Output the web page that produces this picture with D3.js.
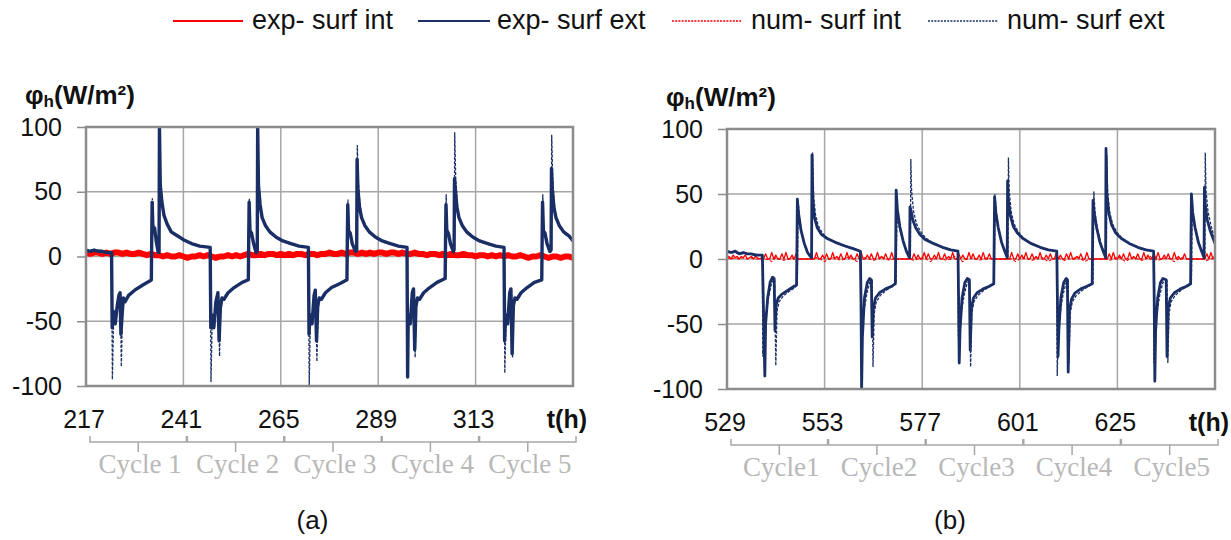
<!DOCTYPE html>
<html><head><meta charset="utf-8">
<script src="https://cdn.jsdelivr.net/npm/d3@7"></script>
<style>body{margin:0;background:#fff}svg{display:block}</style>
</head><body><svg id="c" width="1231" height="540"></svg>
<script>
// ---------------- DATA ----------------
const legendLabels = ["exp- surf int", "exp- surf ext", "num- surf int", "num- surf ext"];
const yTicks = [100, 50, 0, -50, -100];
const ticksA = [217, 241, 265, 289, 313];
const ticksB = [529, 553, 577, 601, 625];
const cyclesA = ["Cycle 1", "Cycle 2", "Cycle 3", "Cycle 4", "Cycle 5"];
const cyclesB = ["Cycle1", "Cycle2", "Cycle3", "Cycle4", "Cycle5"];

// (a) exp surf int: hourly values from t=217
const expIntA = [3,2,3,3,2,3,2,3,3,2,3,2,2,3,
 2,1,2,1,1,0,1,0,0,1,0,-1,0,0,1,
 0,1,0,-1,0,0,1,0,1,0,1,2,1,1,2,
 1,2,2,1,2,1,2,1,2,2,1,2,2,1,2,
 2,3,2,2,3,2,3,3,2,3,2,3,2,3,3,
 2,3,3,2,3,2,2,3,2,2,1,2,2,1,2,
 1,2,1,1,2,1,1,0,1,1,0,1,0,1,0,
 1,0,0,1,0,-1,0,0,1,0,-1,0,0,-1,0,0,-1];
// (a) num surf int: every 4 h from t=217
const numIntA = [3,2,2,1,0,0,0,0,1,1,1,2,2,2,2,2,3,3,2,2,2,1,1,1,1,0,0,0,0,0,0];

// (a) exp surf ext [t, value]
const expExtA = [[217,5],[218,4],[219,5],[220,4],[221,4],[222,3],[223.3,3],
[223.45,-55],[223.7,-42],[224.2,-52],[224.7,-38],[225.1,-30],[225.4,-28],[225.6,-60],[225.9,-45],[226.2,-32],[226.6,-35],[227.5,-30],[229,-26],[231,-22],[232.7,-19],[233.1,-18],[233.2,15],[233.3,42],[233.5,20],[233.9,22],[234.3,12],[234.8,3],[235.0,3],[235.1,100],[235.3,55],[235.7,42],[236.2,32],[237,25],[238,19],[239.5,16],[241,13],[243,10],[245,8],[247.6,7],
[247.75,-55],[248,-45],[248.5,-55],[249,-35],[249.5,-28],[249.8,-65],[250.1,-40],[250.5,-32],[251,-33],[252,-28],[253.5,-24],[255.5,-20],[257,-18],[257.1,16],[257.2,42],[257.4,20],[257.8,18],[258.3,10],[258.9,3],[259.2,4],[259.3,100],[259.5,55],[259.9,40],[260.4,30],[261.2,24],[262.3,19],[263.8,15],[265.5,12],[267.5,10],[269.5,8],[271.8,7],
[271.95,-60],[272.2,-45],[272.7,-52],[273.2,-30],[273.5,-26],[273.8,-65],[274.1,-38],[274.5,-32],[275,-33],[276,-28],[277.5,-24],[279.5,-21],[281.3,-18],[281.4,15],[281.5,40],[281.7,20],[282.1,18],[282.6,10],[283.4,4],[283.7,5],[283.8,75],[284.0,52],[284.4,38],[284.9,30],[285.7,24],[286.8,19],[288.3,15],[290,12],[292,10],[294,8],[296.1,7],
[296.25,-93],[296.4,-45],[296.9,-52],[297.4,-28],[297.7,-25],[298.0,-72],[298.3,-38],[298.7,-32],[299.2,-33],[300.2,-28],[301.7,-24],[303.5,-20],[305.5,-17],[305.6,15],[305.7,40],[305.9,20],[306.3,18],[306.8,10],[307.5,4],[307.7,5],[307.8,60],[308.0,52],[308.4,38],[308.9,30],[309.7,24],[310.8,19],[312.3,15],[314,12],[316,10],[318,8],[320,7],
[320.15,-65],[320.4,-45],[320.9,-52],[321.4,-28],[321.7,-25],[322.0,-75],[322.3,-38],[322.7,-32],[323.2,-33],[324.2,-28],[325.7,-24],[327.5,-20],[329.3,-18],[329.4,15],[329.5,42],[329.7,20],[330.1,18],[330.6,10],[331.3,4],[331.6,5],[331.7,68],[331.9,52],[332.3,38],[332.8,30],[333.6,24],[334.7,19],[336,16],[337,12]];

// (a) num surf ext [t, value]
const numExtA = [[217,4],[219,5],[221,4],[223.3,3],
[223.5,-95],[223.8,-50],[224.3,-48],[224.8,-40],[225.2,-32],[225.5,-30],[225.7,-85],[226.0,-42],[226.4,-34],[227,-32],[228.5,-27],[230.5,-23],[232.7,-19],[233.1,-18],[233.2,20],[233.35,45],[233.6,25],[234.0,20],[234.5,8],[234.9,2],[235.05,3],[235.15,78],[235.35,60],[235.8,40],[236.3,30],[237.1,24],[238.2,18],[239.7,15],[241.2,12],[243.2,10],[245.2,8],[247.6,7],
[247.8,-97],[248.1,-48],[248.6,-50],[249.1,-35],[249.6,-30],[249.9,-77],[250.2,-40],[250.6,-33],[251.2,-32],[252.3,-27],[253.8,-23],[255.7,-20],[257,-18],[257.1,20],[257.25,45],[257.5,22],[257.9,16],[258.5,7],[259,2],[259.25,3],[259.35,70],[259.6,55],[260,40],[260.5,30],[261.3,23],[262.4,18],[264,14],[266,11],[268,9],[270,8],[271.8,7],
[272.0,-100],[272.3,-48],[272.8,-50],[273.3,-32],[273.6,-28],[273.9,-81],[274.2,-40],[274.6,-33],[275.2,-32],[276.3,-27],[277.8,-23],[279.8,-20],[281.3,-18],[281.4,20],[281.55,44],[281.8,22],[282.2,16],[282.8,7],[283.5,3],[283.75,4],[283.85,86],[284.1,58],[284.5,40],[285,30],[285.8,23],[286.9,18],[288.5,14],[290.3,11],[292.3,9],[294.3,8],[296.1,7],
[296.3,-60],[296.5,-48],[297,-50],[297.5,-30],[297.8,-26],[298.1,-78],[298.4,-40],[298.8,-33],[299.4,-32],[300.5,-27],[302,-23],[303.8,-19],[305.5,-17],[305.6,20],[305.75,48],[306,22],[306.4,16],[307,7],[307.6,3],[307.75,4],[307.85,96],[308.1,60],[308.5,40],[309,30],[309.8,23],[310.9,18],[312.5,14],[314.3,11],[316.3,9],[318.3,8],[320,7],
[320.2,-90],[320.5,-48],[321,-50],[321.5,-30],[321.8,-26],[322.1,-78],[322.4,-40],[322.8,-33],[323.4,-32],[324.5,-27],[326,-23],[327.8,-19],[329.3,-18],[329.4,20],[329.55,48],[329.8,22],[330.2,16],[330.8,7],[331.4,3],[331.65,4],[331.75,94],[332,60],[332.4,40],[332.9,30],[333.7,23],[334.8,18],[336,15],[337,12]];

// (b) exp surf int: half-hourly values from t=529
const expIntB = [1,2,0,3,1,2,0,2,1,3,0,1,2,0,2,1,0,1,
 0,4,0,0,5,0,3,0,0,4,0,5,0,0,3,0,4,
 0,0,0,0,0,0,0,0,
 0,5,0,0,3,0,4,0,0,5,0,2,0,4,0,0,5,0,3,0,0,4,0,5,0,0,3,0,4,0,0,5,0,2,0,4,0,0,5,
 0,0,0,0,0,0,0,0,0,
 0,4,0,3,0,0,5,0,4,0,0,3,0,5,0,0,4,0,2,0,5,0,0,4,0,3,0,0,5,0,4,0,0,3,0,5,0,0,4,
 0,0,0,0,0,0,0,0,0,
 0,5,0,0,4,0,3,0,5,0,0,4,0,2,0,5,0,0,3,0,4,0,0,5,0,3,0,0,4,0,5,0,0,2,0,4,0,0,5,0,
 0,0,0,0,0,0,0,0,
 0,4,0,5,0,0,3,0,4,0,0,5,0,2,0,4,0,0,5,0,3,0,0,4,0,5,0,0,3,0,4,0,0,5,0,2,0,0,4,0,
 0,0,0,0,0,0,0,0,
 0,4,0,5,0,3];
// (b) num surf int: hourly values from t=529
const numIntB = [1,0,1,0,1,0,1,0,0,
 -1,0,-2,1,0,-1,0,1,-2,
 0,0,0,0,
 1,0,-2,0,1,0,-1,0,2,0,-2,0,1,0,-1,0,2,0,-1,
 0,0,0,0,0,
 -1,0,1,0,-2,0,1,0,-1,0,2,0,-2,0,1,0,-1,0,1,
 0,0,0,0,0,
 0,-2,0,1,0,-1,0,2,0,-2,0,1,0,-1,0,0,2,0,-2,0,
 0,0,0,0,
 -1,0,2,0,-2,0,1,0,-1,0,2,0,-1,0,1,0,-2,0,1,0,
 0,0,0,0,
 -1,0,1];

// (b) exp surf ext [t, value]
const expExtB = [[529,6],[530,5],[531,6],[532,4],[533,5],[534,4],[535,4],[536,3],[537.7,3],
[537.85,-20],[538.1,-60],[538.3,-90],[538.5,-50],[539,-30],[539.6,-18],[540.2,-14],[540.6,-15],[540.8,-55],[541.1,-35],[541.6,-30],[542.5,-27],[544,-24],[545.5,-21],[546.1,-20],[546.2,10],[546.3,46],[546.6,35],[547.2,22],[548,12],[548.8,5],[549.5,2],[549.8,1],[549.9,80],[550.1,45],[550.5,32],[551.2,24],[552.2,19],[553.5,16],[555.5,13],[558,10],[560,8],[561.8,6],
[561.95,-30],[562.1,-100],[562.3,-60],[562.8,-30],[563.5,-18],[564.1,-15],[564.5,-16],[564.7,-60],[565.0,-38],[565.5,-30],[566.5,-26],[568,-23],[569.5,-21],[570.4,-19],[570.5,15],[570.6,53],[570.9,38],[571.5,25],[572.3,14],[573.1,6],[573.7,2],[573.9,1],[574.0,40],[574.2,38],[574.7,30],[575.4,24],[576.4,19],[577.7,15],[579.7,12],[582,9],[584,7],[585.8,6],
[585.95,-30],[586.1,-80],[586.3,-55],[586.8,-30],[587.5,-18],[588.1,-15],[588.6,-16],[588.8,-70],[589.1,-38],[589.6,-30],[590.5,-26],[592,-23],[593.5,-21],[594.6,-19],[594.7,15],[594.8,48],[595.1,36],[595.7,24],[596.5,13],[597.3,6],[597.8,2],[597.9,1],[598.0,60],[598.2,45],[598.7,33],[599.4,25],[600.4,20],[601.7,16],[603.7,12],[606,9],[608,7],[610.1,6],
[610.25,-30],[610.4,-75],[610.6,-55],[611.1,-30],[611.8,-18],[612.4,-15],[612.7,-16],[612.9,-87],[613.2,-40],[613.7,-31],[614.6,-26],[616,-23],[617.5,-21],[618.8,-19],[618.9,15],[619.0,45],[619.3,35],[619.9,24],[620.7,13],[621.5,6],[622.0,2],[622.1,1],[622.2,85],[622.4,50],[622.9,35],[623.6,26],[624.6,20],[625.9,16],[627.9,12],[630,9],[632,7],[633.9,6],
[634.05,-30],[634.2,-94],[634.4,-55],[634.9,-30],[635.6,-18],[636.2,-15],[637,-16],[637.2,-75],[637.5,-38],[638,-30],[639,-26],[640.5,-23],[642,-21],[643,-19],[643.1,15],[643.2,50],[643.5,36],[644.1,24],[644.9,13],[645.7,6],[646.2,2],[646.3,1],[646.4,55],[646.6,42],[647.1,30],[647.8,22],[648.5,16],[649,12]];

// (b) num surf ext [t, value]
const numExtB = [[529,5],[531,5],[533,4],[535,4],[537.7,3],
[537.8,-75],[538.0,-40],[538.5,-45],[539.2,-30],[540,-18],[540.7,-16],[541.0,-82],[541.3,-40],[541.8,-33],[542.7,-29],[544.2,-25],[545.7,-22],[546.3,-20],[546.4,10],[546.5,44],[546.8,32],[547.4,20],[548.2,10],[549,4],[549.7,1],[549.95,2],[550.05,82],[550.3,50],[550.7,35],[551.4,26],[552.4,20],[553.7,16],[555.7,13],[558.2,10],[560.2,8],[561.8,6],
[561.9,-75],[562.2,-45],[562.7,-40],[563.3,-28],[564.1,-18],[564.7,-17],[564.9,-83],[565.2,-42],[565.7,-33],[566.7,-28],[568.2,-24],[569.7,-21],[570.6,-19],[570.7,10],[570.8,35],[571.1,28],[571.7,20],[572.5,11],[573.3,5],[573.9,1],[574.1,2],[574.2,77],[574.4,52],[574.9,36],[575.6,27],[576.6,21],[577.9,16],[579.9,12],[582.2,9],[584.2,7],[585.8,6],
[585.9,-60],[586.2,-50],[586.7,-40],[587.3,-28],[588.1,-18],[588.7,-17],[588.9,-83],[589.2,-42],[589.7,-33],[590.7,-28],[592.2,-24],[593.7,-21],[594.7,-19],[594.8,10],[594.9,50],[595.2,36],[595.8,23],[596.6,12],[597.4,5],[597.9,1],[598.1,2],[598.2,78],[598.4,52],[598.9,36],[599.6,27],[600.6,21],[601.9,16],[603.9,12],[606.2,9],[608.2,7],[610.1,6],
[610.2,-90],[610.5,-50],[611,-40],[611.6,-28],[612.4,-18],[612.9,-17],[613.1,-80],[613.4,-42],[613.9,-33],[614.9,-28],[616.4,-24],[617.9,-21],[619,-19],[619.1,10],[619.2,52],[619.5,36],[620.1,23],[620.9,12],[621.7,5],[622.2,1],[622.3,2],[622.4,80],[622.6,52],[623.1,36],[623.8,27],[624.8,21],[626.1,16],[628.1,12],[630.2,9],[632.2,7],[633.9,6],
[634.0,-80],[634.3,-50],[634.8,-40],[635.4,-28],[636.2,-18],[637.2,-17],[637.4,-80],[637.7,-42],[638.2,-33],[639.2,-28],[640.7,-24],[642.2,-21],[643.2,-19],[643.3,10],[643.4,42],[643.7,32],[644.3,22],[645.1,12],[645.9,5],[646.4,1],[646.5,2],[646.6,82],[646.8,52],[647.3,36],[648,26],[648.6,19],[649,14]];

// ---------------- DRAW ----------------
const RED = "#ff0000", NAVY = "#1a2f66", GRID = "#a6a6a6", FRAME = "#8c8c8c";
const svg = d3.select("#c");
const SANS = "'Liberation Sans', Arial, sans-serif";
const SERIF = "'Liberation Serif', 'Times New Roman', serif";

// legend
const legendItems = [
  {x1:173, x2:243, tx:252, color:RED, dash:null, w:2},
  {x1:418, x2:490, tx:497, color:NAVY, dash:null, w:2},
  {x1:672, x2:742, tx:751, color:RED, dash:"2,1.2", w:1.5},
  {x1:928, x2:998, tx:1007, color:NAVY, dash:"2,1.2", w:1.5}
];
legendItems.forEach((it, i) => {
  svg.append("line").attr("x1", it.x1).attr("x2", it.x2).attr("y1", 21).attr("y2", 21)
    .attr("stroke", it.color).attr("stroke-width", it.w).attr("stroke-dasharray", it.dash);
  svg.append("text").attr("x", it.tx).attr("y", 29).text(legendLabels[i])
    .attr("font-family", SANS).attr("font-size", 27).attr("fill", "#111");
});

const panels = [
  {x0:86, x1:573, y0:127, y1:386, t0:217, ticks:ticksA, cycles:cyclesA, letter:"(a)",
   expInt: expIntA.map((v,i)=>[217+i, v]), numInt: numIntA.map((v,i)=>[217+4*i, v]),
   expExt: expExtA, numExt: numExtA, intW: 6, intNumW: 1.2, extW: 3.4},
  {x0:727, x1:1215, y0:129, y1:389, t0:529, ticks:ticksB, cycles:cyclesB, letter:"(b)",
   expInt: expIntB.map((v,i)=>[529+0.5*i, v]), numInt: numIntB.map((v,i)=>[529+i, v]),
   expExt: expExtB, numExt: numExtB, intW: 1.3, intNumW: 1.1, extW: 2.8}
];

panels.forEach((p, pi) => {
  const x = d3.scaleLinear().domain([p.t0, p.t0 + 120]).range([p.x0, p.x1]);
  const y = d3.scaleLinear().domain([-100, 100]).range([p.y1, p.y0]);
  const g = svg.append("g");
  const grid = d3.range(p.t0, p.t0 + 121, 24);

  // gridlines
  g.selectAll(".gx").data(grid).join("line")
    .attr("x1", d => x(d)).attr("x2", d => x(d)).attr("y1", p.y0).attr("y2", p.y1)
    .attr("stroke", GRID).attr("stroke-width", 1.5);
  g.selectAll(".gy").data(yTicks).join("line")
    .attr("x1", p.x0).attr("x2", p.x1).attr("y1", d => y(d)).attr("y2", d => y(d))
    .attr("stroke", GRID).attr("stroke-width", 1.5);

  // y axis ticks and labels
  const yAxis = d3.axisLeft(y).tickValues(yTicks).tickSize(9).tickPadding(15).tickFormat(d3.format("d"));
  const ya = g.append("g").attr("transform", `translate(${p.x0},0)`).call(yAxis);
  ya.select(".domain").remove();
  ya.selectAll("line").attr("stroke", FRAME).attr("stroke-width", 1.5);
  ya.selectAll("text").attr("font-family", SANS).attr("font-size", 25).attr("fill", "#111")
    .text(d => d < 0 ? "-" + Math.abs(d) : d);

  // clip
  const cid = "clip" + pi;
  svg.append("clipPath").attr("id", cid).append("rect")
    .attr("x", p.x0).attr("y", p.y0 - 1).attr("width", p.x1 - p.x0).attr("height", p.y1 - p.y0 + 2);
  const lines = g.append("g").attr("clip-path", `url(#${cid})`);
  const line = d3.line().x(d => x(d[0])).y(d => y(d[1]));

  lines.append("path").datum(p.numInt).attr("d", line).attr("fill", "none")
    .attr("stroke", RED).attr("stroke-width", p.intNumW).attr("stroke-dasharray", "3,2");
  lines.append("path").datum(p.expInt).attr("d", line).attr("fill", "none")
    .attr("stroke", RED).attr("stroke-width", p.intW).attr("stroke-linejoin", "round");
  lines.append("path").datum(p.expExt).attr("d", line).attr("fill", "none")
    .attr("stroke", NAVY).attr("stroke-width", p.extW).attr("stroke-linejoin", "round");
  lines.append("path").datum(p.numExt).attr("d", line).attr("fill", "none")
    .attr("stroke", NAVY).attr("stroke-width", 1.3).attr("stroke-dasharray", "3,1.5");

  // frame
  g.append("rect").attr("x", p.x0).attr("y", p.y0).attr("width", p.x1 - p.x0).attr("height", p.y1 - p.y0)
    .attr("fill", "none").attr("stroke", FRAME).attr("stroke-width", 2.5);

  // y title
  const tt = g.append("text").attr("x", p.x0 - 61).attr("y", p.y0 - 23)
    .attr("font-family", SANS).attr("font-weight", "bold").attr("font-size", 26).attr("fill", "#111");
  tt.append("tspan").text("φ");
  tt.append("tspan").text("h").attr("font-size", 17).attr("dy", 3);
  tt.append("tspan").text("(W/m²)").attr("dy", -3);

  // x tick labels
  const by = p.y1 + 42;
  g.selectAll(".xl").data(p.ticks).join("text")
    .attr("x", d => x(d) - 2).attr("y", by).attr("text-anchor", "middle")
    .attr("font-family", SANS).attr("font-size", 25).attr("fill", "#111").text(d => d);
  g.append("text").attr("x", p.x1 + 14).attr("y", by).attr("text-anchor", "end")
    .attr("font-family", SANS).attr("font-weight", "bold").attr("font-size", 25).attr("fill", "#111").text("t(h)");

  // cycle braces
  const bTop = p.y1 + 50, bLine = p.y1 + 56, bTick = p.y1 + 66;
  p.cycles.forEach((c, i) => {
    const a = x(p.t0 + 24 * i) + 4, b = x(p.t0 + 24 * (i + 1)) + 3, m = (a + b) / 2;
    g.append("path").attr("d", `M${a},${bTop}V${bLine}H${b}V${bTop}M${m},${bLine}V${bTick}`)
      .attr("fill", "none").attr("stroke", "#a8a8a8").attr("stroke-width", 1.5);
    g.append("text").attr("x", m + 2).attr("y", p.y1 + 87).attr("text-anchor", "middle")
      .attr("font-family", SERIF).attr("font-size", 27).attr("fill", "#b8b8b8").text(c);
  });

  // panel letter
  svg.append("text").attr("x", (p.x0 + p.x1) / 2 + (pi === 0 ? -17 : -21)).attr("y", 529).attr("text-anchor", "middle")
    .attr("font-family", SANS).attr("font-size", 26).attr("fill", "#111").text(p.letter);
});
</script>
</body></html>
